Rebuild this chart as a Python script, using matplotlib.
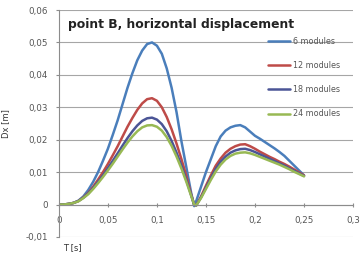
import numpy as np
import matplotlib.pyplot as plt
from matplotlib.ticker import FuncFormatter

# time axis [s]
t = [0, 0.005, 0.01, 0.015, 0.02, 0.025, 0.03, 0.035, 0.04, 0.045, 0.05,
     0.055, 0.06, 0.065, 0.07, 0.075, 0.08, 0.085, 0.09, 0.095, 0.10, 0.105,
     0.11, 0.115, 0.12, 0.125, 0.13, 0.135, 0.138, 0.14, 0.145, 0.15, 0.155,
     0.16, 0.165, 0.17, 0.175, 0.18, 0.185, 0.19, 0.195, 0.20, 0.205, 0.21,
     0.215, 0.22, 0.225, 0.23, 0.235, 0.24, 0.245, 0.25]

# horizontal displacement of point B [m]
dx_6 = [0, 0, 0.0002, 0.0005, 0.0012, 0.0025, 0.0045, 0.0070, 0.0100, 0.0135,
        0.0172, 0.0215, 0.0260, 0.0310, 0.0360, 0.0405, 0.0445, 0.0475,
        0.0495, 0.0500, 0.0490, 0.0465, 0.0420, 0.0360, 0.0285, 0.0195,
        0.0115, 0.0035, -0.0005, 0.0010, 0.0055, 0.0100, 0.0140, 0.0180,
        0.0210, 0.0228, 0.0238, 0.0243, 0.0245, 0.0238, 0.0225, 0.0212,
        0.0203, 0.0193, 0.0183, 0.0173, 0.0162, 0.0150, 0.0135, 0.0120,
        0.0105, 0.0090]
dx_12 = [0, 0, 0.0002, 0.0005, 0.0011, 0.0022, 0.0036, 0.0055, 0.0077, 0.0100,
         0.0125, 0.0152, 0.0180, 0.0210, 0.0240, 0.0267, 0.0292, 0.0312,
         0.0325, 0.0328, 0.0320, 0.0300, 0.0270, 0.0232, 0.0188, 0.0140,
         0.0088, 0.0030, 0.0000, -0.0003, 0.0025, 0.0058, 0.0090, 0.0120,
         0.0142, 0.0160, 0.0172, 0.0180, 0.0185, 0.0186, 0.0180, 0.0172,
         0.0163, 0.0155, 0.0147, 0.0140, 0.0132, 0.0125, 0.0117, 0.0108,
         0.0099, 0.0090]
dx_18 = [0, 0, 0.0002, 0.0005, 0.0011, 0.0021, 0.0034, 0.0051, 0.0070, 0.0090,
         0.0112, 0.0135, 0.0158, 0.0182, 0.0205, 0.0226, 0.0244, 0.0258,
         0.0266, 0.0268, 0.0262, 0.0248, 0.0226, 0.0196, 0.0160, 0.0120,
         0.0076, 0.0028, 0.0000, -0.0003, 0.0022, 0.0052, 0.0082, 0.0110,
         0.0132, 0.0148, 0.0160, 0.0167, 0.0171, 0.0172, 0.0168, 0.0162,
         0.0155, 0.0148, 0.0141, 0.0134, 0.0127, 0.0120, 0.0112, 0.0104,
         0.0096, 0.0088]
dx_24 = [0, 0, 0.0002, 0.0005, 0.0010, 0.0020, 0.0032, 0.0048, 0.0066, 0.0085,
         0.0105, 0.0126, 0.0148, 0.0170, 0.0191, 0.0210, 0.0226, 0.0238,
         0.0244, 0.0245, 0.0240, 0.0228, 0.0208, 0.0181, 0.0148, 0.0111,
         0.0070, 0.0026, 0.0000, -0.0003, 0.0020, 0.0048, 0.0076, 0.0102,
         0.0123, 0.0139, 0.0150, 0.0157, 0.0160, 0.0161, 0.0158, 0.0153,
         0.0147, 0.0141, 0.0135, 0.0129, 0.0123, 0.0116, 0.0109, 0.0101,
         0.0094, 0.0087]

series = [("6 modules", dx_6, "#4a7ebb"),
          ("12 modules", dx_12, "#be4b48"),
          ("18 modules", dx_18, "#4b5596"),
          ("24 modules", dx_24, "#98b954")]

fig = plt.figure(figsize=(3.61, 2.57), dpi=100)
ax = fig.add_axes([0.163, 0.078, 0.815, 0.883])

for label, dx, col in series:
    ax.plot(t, dx, color=col, lw=1.8, label=label,
            solid_capstyle="round", solid_joinstyle="round")

ax.set_xlim(0, 0.3)
ax.set_ylim(-0.01, 0.06)
ax.set_xticks(np.arange(0, 0.31, 0.05))
ax.set_yticks(np.arange(-0.01, 0.061, 0.01))

comma = FuncFormatter(lambda v, p: ("%g" % round(v, 3)).replace(".", ","))
ax.xaxis.set_major_formatter(comma)
ax.yaxis.set_major_formatter(comma)

ax.grid(axis="y", color="#a6a6a6", lw=0.8)
ax.set_axisbelow(True)
for s in ["top", "right"]:
    ax.spines[s].set_visible(False)
ax.spines["bottom"].set_position(("data", 0))
ax.spines["bottom"].set_color("#8c8c8c")
ax.spines["left"].set_color("#8c8c8c")
ax.tick_params(axis="x", direction="inout", length=3, pad=7, labelsize=6.3,
               colors="#8c8c8c", labelcolor="#555555")
ax.tick_params(axis="y", direction="out", length=2, pad=6, labelsize=6.3,
               colors="#8c8c8c", labelcolor="#555555")

ax.set_ylabel("Dx [m]", fontsize=6, color="#333333")
ax.yaxis.set_label_coords(-0.165, 0.5)
ax.set_xlabel("T [s]", fontsize=6, color="#333333")
ax.xaxis.set_label_coords(0.045, -0.025)

ax.text(0.03, 0.92, "point B, horizontal displacement", transform=ax.transAxes,
        fontsize=8.9, fontweight="bold", color="#222222")

ax.legend(loc="upper right", bbox_to_anchor=(0.98, 0.915), frameon=False,
          fontsize=5.8, handlelength=2.8, labelspacing=1.9, handletextpad=0.3,
          labelcolor="#555555")

fig.savefig("out.png", dpi=100)
